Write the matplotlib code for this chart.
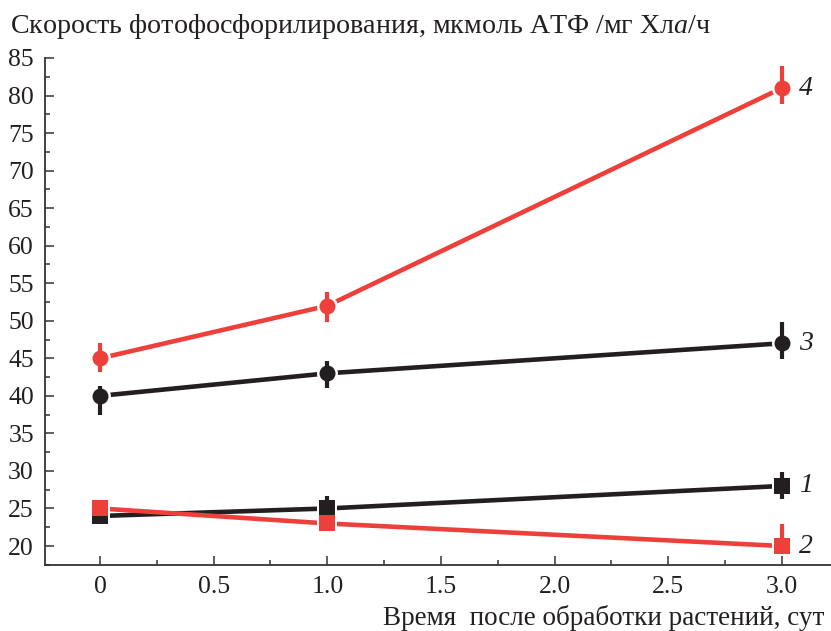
import matplotlib
matplotlib.use("Agg")
import matplotlib.pyplot as plt
from matplotlib.ticker import MultipleLocator, FixedFormatter, FixedLocator
import numpy as np

# ---- data ----
days = [0.0, 1.0, 3.0]
s1 = [24, 25, 28]          # black squares
s1_lo = [0, 2.1, 1.8]
s1_hi = [0, 1.6, 1.9]
s2 = [25, 23, 20]          # red squares
s2_lo = [0, 0, 0]
s2_hi = [0, 0, 2.9]
s3 = [40, 43, 47]          # black circles
s3_lo = [2.5, 2.0, 2.1]
s3_hi = [1.3, 1.7, 2.8]
s4 = [45, 52, 81]          # red circles
s4_lo = [1.8, 2.1, 2.1]
s4_hi = [2.1, 1.8, 2.9]
series_labels = ["1", "2", "3", "4"]
xticks = [0, 0.5, 1.0, 1.5, 2.0, 2.5, 3.0]
xticklabels = ["0", "0.5", "1.0", "1.5", "2.0", "2.5", "3.0"]
yticks = [20, 25, 30, 35, 40, 45, 50, 55, 60, 65, 70, 75, 80, 85]

RED = "#EE403B"
BLK = "#231F20"
plt.rcParams['font.family'] = ['Liberation Serif', 'DejaVu Serif']
plt.rcParams['mathtext.fontset'] = 'custom'
plt.rcParams['mathtext.rm'] = 'Liberation Serif'
plt.rcParams['mathtext.it'] = 'Liberation Serif:italic'

fig = plt.figure(figsize=(8.31, 6.31), dpi=100)
ax = fig.add_axes([45/831, 1-565/631, 1-45/831, (565-58)/631])

ax.set_xlim(-0.242, 3.216)
ax.set_ylim(17.47, 85)

series = [
    (s1, s1_lo, s1_hi, BLK, 's'),
    (s2, s2_lo, s2_hi, RED, 's'),
    (s3, s3_lo, s3_hi, BLK, 'o'),
    (s4, s4_lo, s4_hi, RED, 'o'),
]
for i, (y, lo, hi, c, m) in enumerate(series):
    ms = 11.5 if m == 'o' else 11
    ax.plot(days, y, color=c, lw=3.3, zorder=2 + i*0.1, solid_capstyle='butt')
    # white halo (below all markers)
    ax.plot(days, y, ls='none', marker=m, ms=ms + 3.6, mfc='white', mec='white',
            mew=0, zorder=2.8, clip_on=False)
    ax.plot(days, y, ls='none', marker=m, ms=ms, mfc=c, mec=c, mew=0,
            zorder=3 + i*0.1, clip_on=False)
    ax.errorbar(days, y, yerr=[lo, hi], fmt='none', ecolor=c, elinewidth=3,
                capsize=0, zorder=3.05 + i*0.1, clip_on=False)

# series labels
lab_y = [28, 20, 47, 81]
for lab, yy in zip(series_labels, lab_y):
    ax.text(3.075, yy, lab, fontsize=20, style='italic', va='center', ha='left',
            color=BLK)

ax.spines['top'].set_visible(False)
ax.spines['right'].set_visible(False)
for sp in ['left', 'bottom']:
    ax.spines[sp].set_linewidth(1.3)
    ax.spines[sp].set_color('#333333')

ax.xaxis.set_major_locator(FixedLocator(xticks))
ax.xaxis.set_major_formatter(FixedFormatter(xticklabels))
ax.xaxis.set_minor_locator(MultipleLocator(0.25))
ax.yaxis.set_major_locator(FixedLocator(yticks))
ax.yaxis.set_minor_locator(MultipleLocator(2.5))
ax.tick_params(which='both', direction='in', colors='#333333', labelcolor='#231F20')
ax.tick_params(which='major', length=6.5, width=1.1, labelsize=18.5, pad=8)
ax.tick_params(which='minor', length=3.5, width=1.1)

fig.text(10/831, 1-33/631, "Скорость фотофосфорилирования, мкмоль АТФ /мг Хл$\\mathit{a}$/ч",
         fontsize=20.2, ha='left', va='baseline', color='#231F20')
fig.text(383/831, 1-625/631, "Время  после обработки растений, сут",
         fontsize=19.5, ha='left', va='baseline', color='#231F20')

fig.savefig("out.png", dpi=100)
